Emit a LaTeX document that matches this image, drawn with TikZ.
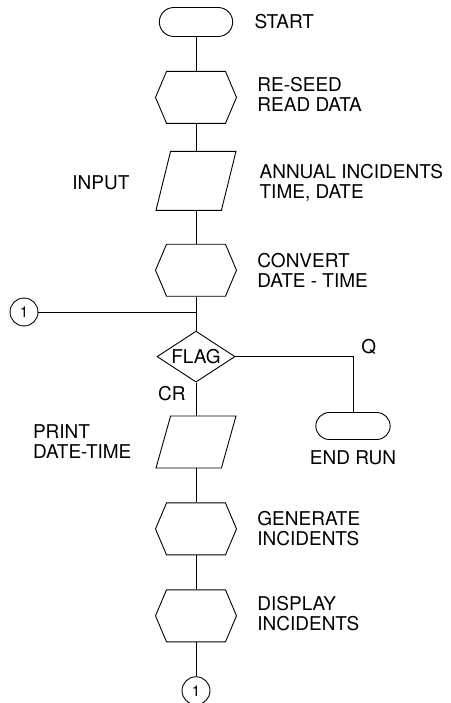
\documentclass[tikz,border=0pt]{standalone}
\usepackage{fontspec}
\setmainfont{TeX Gyre Heros}
\usetikzlibrary{positioning, shapes.geometric, shapes.misc, shapes.symbols}

\begin{document}
\begin{tikzpicture}[x=1pt, y=-1pt, line width=0.9pt, font=\fontsize{19}{20}\selectfont]
    \tikzstyle{termbox}=[draw, rounded rectangle, minimum width=80pt, minimum height=29pt]
    \tikzstyle{hexbox}=[draw, signal, signal to=east and west, signal pointer angle=134, minimum width=81pt, minimum height=52pt, inner sep=2pt]
    \tikzstyle{iobox}=[draw, trapezium, trapezium left angle=74, trapezium right angle=106, trapezium stretches=true, minimum width=80pt, minimum height=59pt, inner sep=2pt]
    \tikzstyle{flagbox}=[draw, diamond, aspect=1.53, minimum width=78pt, minimum height=51pt, inner sep=0pt]
    \tikzstyle{linkbox}=[draw, circle, minimum size=28pt, inner sep=0pt, font=\fontsize{15}{15}\selectfont]
    \tikzstyle{txt}=[inner sep=0pt, align=left]

    \useasboundingbox (0,0) rectangle (450,703);

    \node[termbox] (start) at (196,22) {};
    \node[hexbox, below=34pt of start] (seed) {};
    \node[iobox, below=27pt of seed] (input) {};
    \node[hexbox, below=33pt of input] (convert) {};
    \node[flagbox, below=34pt of convert] (flag) {FLAG};
    \node[iobox, minimum height=52pt, below=33pt of flag] (print) {};
    \node[hexbox, below=34pt of print] (generate) {};
    \node[hexbox, below=34pt of generate] (display) {};
    \node[linkbox, below=34pt of display] (linkout) {1};

    \node[linkbox] (linkin) at (24,312) {1};
    \coordinate (join) at (convert |- linkin);
    \node[termbox, minimum width=81pt, minimum height=27pt] (endrun) at (353,426) {};
    \coordinate (qcorner) at (endrun.north |- flag.east);

    \node[txt, right=21pt of start.east] {START};
    \node[txt, right=20pt of seed.east, yshift=3pt] {RE-SEED\\READ DATA};
    \node[txt, right=30pt of input.east, yshift=-2pt] {ANNUAL INCIDENTS\\TIME, DATE};
    \node[txt, left=33pt of input.west, yshift=-2pt] {INPUT};
    \node[txt, right=20pt of convert.east] {CONVERT\\DATE - TIME};
    \node[txt, below left=3pt and 10pt of flag.south] {CR};
    \node[txt, above right=2pt and 8pt of qcorner] {Q};
    \node[txt, left=31pt of print.west] {PRINT\\DATE-TIME};
    \node[txt, below=10pt of endrun.south] {END RUN};
    \node[txt, right=20pt of generate.east] {GENERATE\\INCIDENTS};
    \node[txt, right=20pt of display.east, yshift=2pt] {DISPLAY\\INCIDENTS};

    \draw (start) -- (seed);
    \draw (seed) -- (input);
    \draw (input) -- (convert);
    \draw (convert) -- (flag);
    \draw (linkin) -- (join);
    \draw (flag.east) -- (qcorner) -- (endrun.north);
    \draw (flag) -- (print);
    \draw (print) -- (generate);
    \draw (generate) -- (display);
    \draw (display) -- (linkout);
\end{tikzpicture}
\end{document}
